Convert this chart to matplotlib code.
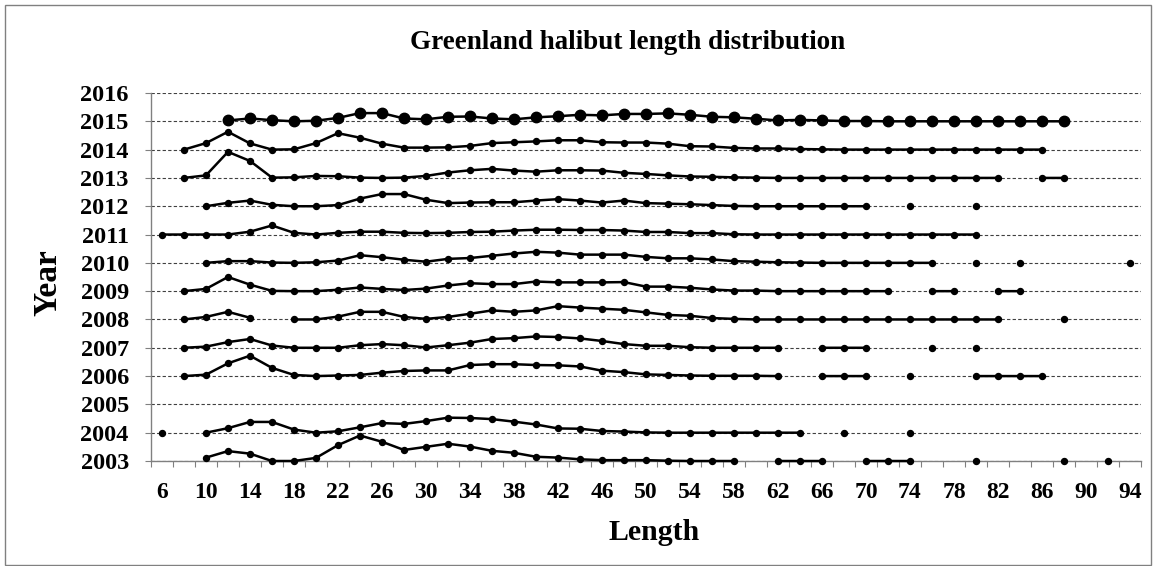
import numpy as np
import matplotlib
matplotlib.use('Agg')
import matplotlib.pyplot as plt
from matplotlib.patches import Rectangle

plt.rcParams['font.family'] = ['Liberation Serif', 'DejaVu Serif']
plt.rcParams['font.weight'] = 'bold'

n = None

# length classes (cm) on the category axis
lengths = list(range(6, 96, 2))
years = list(range(2003, 2017))
tick_labels = [str(v) for v in range(6, 96, 4)]

# relative frequency per length class, in year-row units (None = no fish)
h2015 = [n, n, n, 0.03, 0.10, 0.04, 0.00, 0.02, 0.12, 0.29, 0.29, 0.10, 0.07, 0.16, 0.17,
         0.10, 0.07, 0.14, 0.18, 0.23, 0.21, 0.26, 0.26, 0.28, 0.23, 0.16, 0.14, 0.09,
         0.03, 0.05, 0.03, 0.01, 0.01, 0, 0, 0, 0, 0, 0, 0, 0, 0, n, n, n]
h2014 = [n, 0, 0.23, 0.63, 0.22, 0, 0.01, 0.23, 0.58, 0.42, 0.21,
         0.07, 0.07, 0.08, 0.13, 0.23, 0.26, 0.29, 0.33, 0.33, 0.26,
         0.25, 0.25, 0.21, 0.12, 0.11, 0.06, 0.04, 0.04, 0.02, 0.01,
         0, 0, 0, 0, 0, 0, 0, 0, 0, 0, n, n, n, n]
h2013 = [n, 0, 0.09, 0.92, 0.60, 0.01, 0.02, 0.07, 0.06, 0.01, 0,
         0.01, 0.07, 0.19, 0.27, 0.32, 0.26, 0.22, 0.27, 0.27, 0.26,
         0.18, 0.14, 0.09, 0.05, 0.04, 0.02, 0.01, 0, 0, 0,
         0, 0, 0, 0, 0, 0, 0, 0, n, 0, 0, n, n, n]
h2012 = [n, n, 0, 0.12, 0.20, 0.05, 0, 0, 0.04, 0.27, 0.43, 0.43,
         0.23, 0.11, 0.13, 0.14, 0.14, 0.20, 0.25, 0.20, 0.13, 0.20,
         0.11, 0.09, 0.07, 0.04, 0.01, 0, 0, 0, 0, 0,
         0, n, 0, n, n, 0, n, n, n, n, n, n, n]
h2011 = [0, 0, 0, 0, 0.10, 0.32, 0.06, 0, 0.06, 0.10,
         0.10, 0.06, 0.05, 0.06, 0.09, 0.10, 0.14, 0.17, 0.17, 0.16,
         0.16, 0.14, 0.09, 0.09, 0.05, 0.05, 0.01, 0, 0, 0,
         0, 0, 0, 0, 0, 0, 0, 0, n, n, n, n, n, n, n]
h2010 = [n, n, 0, 0.06, 0.06, 0.01, 0, 0.02, 0.08, 0.27, 0.20, 0.11,
         0.04, 0.14, 0.17, 0.25, 0.33, 0.39, 0.36, 0.29, 0.29, 0.29,
         0.21, 0.16, 0.16, 0.12, 0.06, 0.04, 0.02, 0.01, 0, 0,
         0, 0, 0, 0, n, 0, n, 0, n, n, n, n, 0]
h2009 = [n, 0, 0.08, 0.50, 0.23, 0.01, 0, 0, 0.05, 0.13, 0.08,
         0.04, 0.09, 0.20, 0.28, 0.25, 0.25, 0.34, 0.31, 0.31, 0.31,
         0.32, 0.16, 0.16, 0.12, 0.06, 0.02, 0.02, 0, 0, 0,
         0, 0, 0, n, 0, 0, n, 0, 0, n, n, n, n, n]
h2008 = [n, 0, 0.09, 0.27, 0.06, n, 0, 0, 0.10, 0.27, 0.27,
         0.09, 0.02, 0.09, 0.20, 0.32, 0.27, 0.32, 0.47, 0.42, 0.38,
         0.34, 0.25, 0.16, 0.13, 0.05, 0.02, 0, 0, 0, 0,
         0, 0, 0, 0, 0, 0, 0, 0, n, n, 0, n, n, n]
h2007 = [n, 0, 0.04, 0.20, 0.31, 0.08, 0, 0, 0, 0.09, 0.13,
         0.09, 0.01, 0.09, 0.18, 0.31, 0.34, 0.40, 0.38, 0.33, 0.24,
         0.13, 0.07, 0.07, 0.02, 0, 0, 0, 0, n, 0,
         0, 0, n, n, 0, n, 0, n, n, n, n, n, n, n]
h2006 = [n, 0, 0.05, 0.45, 0.72, 0.29, 0.04, 0, 0.02, 0.04, 0.12,
         0.18, 0.20, 0.20, 0.39, 0.42, 0.42, 0.39, 0.38, 0.34, 0.19,
         0.14, 0.06, 0.04, 0.02, 0.01, 0.01, 0.01, 0, n, 0,
         0, 0, n, 0, n, n, 0, 0, 0, 0, n, n, n, n]
h2005 = [n] * 45
h2004 = [0, n, 0, 0.16, 0.38, 0.38, 0.11, 0, 0.05, 0.19,
         0.34, 0.31, 0.41, 0.53, 0.52, 0.48, 0.39, 0.29, 0.15, 0.14,
         0.06, 0.04, 0.01, 0, 0, 0, 0, 0, 0, 0,
         n, 0, n, n, 0, n, n, n, n, n, n, n, n, n, n]
h2003 = [n, n, 0.12, 0.35, 0.26, 0, 0, 0.11, 0.56, 0.90, 0.68, 0.39,
         0.50, 0.61, 0.51, 0.36, 0.29, 0.15, 0.12, 0.06, 0.03, 0.03,
         0.03, 0.01, 0, 0, 0, n, 0, 0, 0, n,
         0, 0, 0, n, n, 0, n, n, n, 0, n, 0, n]

series = {2003: h2003, 2004: h2004, 2005: h2005, 2006: h2006, 2007: h2007,
          2008: h2008, 2009: h2009, 2010: h2010, 2011: h2011, 2012: h2012,
          2013: h2013, 2014: h2014, 2015: h2015}

fig = plt.figure(figsize=(11.56, 5.66), dpi=100)
ax = fig.add_axes([0.1306, 0.1855, 0.8564, 0.6502])

# chart frame
fig.patches.append(Rectangle((0.004, 0.002), 0.992, 0.99, transform=fig.transFigure,
                             fill=False, edgecolor='#808080', linewidth=1.0))

for yr in years:
    ax.axhline(yr, color='#404040', linestyle=(0, (3, 2)), linewidth=0.8, zorder=1)

for yr, vals in series.items():
    arr = np.array([np.nan if v is None else v for v in vals], dtype=float)
    assert len(arr) == len(lengths)
    big = yr == 2015
    ax.plot(lengths, yr + arr, color='black', linewidth=1.8, marker='o',
            markersize=7.5 if big else 4.3, zorder=3, clip_on=False)

ax.set_xlim(5, 95)
ax.set_ylim(2003, 2016)
ax.set_yticks(years)
ax.set_yticklabels([str(y) for y in years])
ax.set_xticks(list(range(6, 96, 4)))
ax.set_xticklabels(tick_labels)
ax.set_xticks(list(range(5, 97, 2)), minor=True)

ax.tick_params(axis='x', which='major', length=0, pad=15, labelsize=17)
ax.tick_params(axis='x', which='minor', length=4.5, width=0.8, color='#808080', direction='out')
ax.tick_params(axis='y', which='major', length=4, width=0.8, color='#808080', pad=12, labelsize=17.5)

for side in ('top', 'right'):
    ax.spines[side].set_visible(False)
for side in ('left', 'bottom'):
    ax.spines[side].set_color('#808080')
    ax.spines[side].set_linewidth(1.0)

fig.text(0.543, 0.925, 'Greenland halibut length distribution', ha='center', va='center',
         fontsize=19.5, fontweight='bold')
fig.text(0.041, 0.50, 'Year', ha='center', va='center', rotation=90,
         fontsize=24, fontweight='bold')
fig.text(0.566, 0.060, 'Length', ha='center', va='center', fontsize=21.5, fontweight='bold')

fig.savefig('out.png', dpi=100, facecolor='white')
